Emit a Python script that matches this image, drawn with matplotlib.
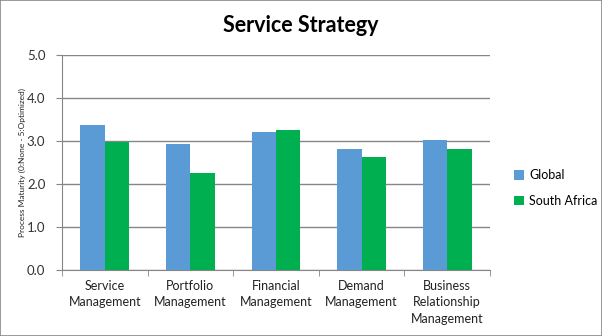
import matplotlib
matplotlib.use('Agg')
import matplotlib.pyplot as plt
import numpy as np

categories = ['Service\nManagement', 'Portfolio\nManagement', 'Financial\nManagement',
              'Demand\nManagement', 'Business\nRelationship\nManagement']
global_vals = [3.37, 2.93, 3.21, 2.81, 3.02]
sa_vals = [2.98, 2.26, 3.26, 2.63, 2.81]

plt.rcParams['font.family'] = ['Lato', 'DejaVu Sans']

fig = plt.figure(figsize=(6.02, 3.36), dpi=100)
fig.patches.append(plt.Rectangle((0, 0), 1, 1, transform=fig.transFigure, fill=False,
                                 edgecolor='#888888', linewidth=1.2))
ax = fig.add_axes([0.103, 0.196, 0.711, 0.64])

x = np.arange(len(categories))
w = 0.285
ax.bar(x - w / 2, global_vals, w, color='#5b9bd5', label='Global', zorder=3)
ax.bar(x + w / 2, sa_vals, w, color='#00b050', label='South Africa', zorder=3)

ax.set_xlim(-0.5, len(categories) - 0.5)
ax.set_ylim(0, 5)
ax.set_yticks(np.arange(0, 5.01, 1.0))
ax.set_yticklabels([f'{v:.1f}' for v in np.arange(0, 5.01, 1.0)], fontsize=9.5, color='#333333')
ax.set_xticks(x)
ax.set_xticklabels(categories, fontsize=9, color='#222222', linespacing=1.45)
ax.set_xticks(np.arange(-0.5, len(categories), 1), minor=True)
ax.tick_params(axis='x', which='major', length=0, pad=7)
ax.tick_params(axis='x', which='minor', length=4, color='#868686')
ax.tick_params(axis='y', length=4, color='#868686', pad=8)
ax.yaxis.grid(True, color='#868686', linewidth=1, zorder=0)
for s in ['top', 'right']:
    ax.spines[s].set_visible(False)
for s in ['left', 'bottom']:
    ax.spines[s].set_color('#868686')

ax.set_ylabel('Process Maturity (0:None - 5:Optimized)', fontsize=6, color='#222222')
ax.yaxis.set_label_coords(-0.085, 0.5)
fig.suptitle('Service Strategy', fontsize=15.5, fontweight='bold', y=0.955)

fig.legend(loc='center left', bbox_to_anchor=(0.835, 0.44), frameon=False, fontsize=9,
           handlelength=0.8, handleheight=0.8, handletextpad=0.4, labelspacing=1.1)

plt.savefig('out.png', dpi=100)
